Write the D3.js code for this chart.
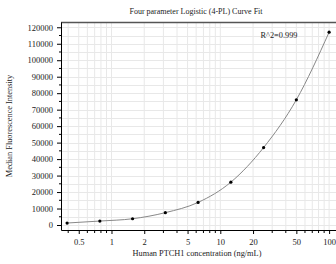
<!DOCTYPE html>
<html><head><meta charset="utf-8">
<script src="https://cdn.jsdelivr.net/npm/d3@7"></script>
<style>body{margin:0;background:#fff}svg{display:block}text{font-family:"Liberation Serif","DejaVu Serif",serif;fill:#222}</style>
</head><body><svg id="c" width="336" height="264"></svg>
<script>
const concentrations=[0.390625,0.78125,1.5625,3.125,6.25,12.5,25,50,100];
const intensities=[1200,2400,3800,7500,13700,26000,47000,76000,117000];
const xTickLabels=[0.5,1,2,5,10,20,50,100];
const yTickLabels=[0,10000,20000,30000,40000,50000,60000,70000,80000,90000,100000,110000,120000];
const title="Four parameter Logistic (4-PL) Curve Fit";
const xTitle="Human PTCH1 concentration (ng/mL)";
const yTitle="Median Fluorescence Intensity";
const r2Label="R^2=0.999";

const svg=d3.select("#c");
const L=61,T=22,R=336,B=230;
const x=d3.scaleLog().domain([0.3435,115.7]).range([L,R]);
const y=d3.scaleLinear().domain([-3030,123200]).range([B,T]);

// grid
const minorX=[];
for(const dec of [0.1,1,10]){for(let k=1;k<=9;k++){const v=dec*k;if(v>=0.35&&v<=115)minorX.push(v);}}
minorX.push(100);
const minorY=d3.range(0,123001,5000);
const g=svg.append("g");
g.selectAll("line.vx").data(minorX).enter().append("line")
 .attr("x1",d=>x(d)).attr("x2",d=>x(d)).attr("y1",T).attr("y2",B)
 .attr("stroke","#e8e8e8").attr("stroke-width",1);
g.selectAll("line.hy").data(minorY).enter().append("line")
 .attr("x1",L).attr("x2",R).attr("y1",d=>Math.round(y(d))+0.5).attr("y2",d=>Math.round(y(d))+0.5)
 .attr("stroke","#e8e8e8").attr("stroke-width",1);

// top border
svg.append("line").attr("x1",L).attr("x2",R).attr("y1",T+0.5).attr("y2",T+0.5).attr("stroke","#555").attr("stroke-width",1.5);

// axes
const xAxis=d3.axisBottom(x).tickValues(xTickLabels).tickFormat(d=>String(d)).tickSize(4).tickSizeOuter(0);
const xg=svg.append("g").attr("transform",`translate(0,${B})`).call(xAxis);
xg.selectAll("line.minor").data(minorX.filter(v=>!xTickLabels.includes(+v.toFixed(6)))).enter().append("line")
 .attr("x1",d=>x(d)).attr("x2",d=>x(d)).attr("y1",0).attr("y2",3).attr("stroke","#000");
const yAxis=d3.axisLeft(y).tickValues(yTickLabels).tickFormat(d3.format("d")).tickSize(4).tickSizeOuter(0);
const yg=svg.append("g").attr("transform",`translate(${L},0)`).call(yAxis);
yg.selectAll("line.minor").data(d3.range(5000,120000,10000)).enter().append("line")
 .attr("x1",0).attr("x2",-2).attr("y1",d=>y(d)).attr("y2",d=>y(d)).attr("stroke","#000");
[xg,yg].forEach(a=>{a.select(".domain").attr("stroke","#000");a.selectAll("text").style("font-family","Liberation Serif").style("font-size","8.5px").attr("fill","#222");});
xg.selectAll(".tick text").attr("dy","0.9em");
yg.selectAll(".tick text").attr("dx","-1px");

// curve
const pts=concentrations.map((c,i)=>[c,intensities[i]]);
svg.append("path").datum(pts)
 .attr("d",d3.line().x(d=>x(d[0])).y(d=>y(d[1])).curve(d3.curveMonotoneX))
 .attr("fill","none").attr("stroke","#888").attr("stroke-width",1);
svg.selectAll("circle.pt").data(pts).enter().append("circle")
 .attr("cx",d=>x(d[0])).attr("cy",d=>y(d[1])).attr("r",1.6).attr("fill","#000");

// texts
svg.append("text").attr("x",196).attr("y",14).attr("text-anchor","middle").style("font-size","8px").text(title);
svg.append("text").attr("x",197).attr("y",256).attr("text-anchor","middle").style("font-size","8.3px").text(xTitle);
svg.append("text").attr("transform","translate(12,126) rotate(-90)").attr("text-anchor","middle").style("font-size","8.3px").text(yTitle);
svg.append("text").attr("x",279).attr("y",38).attr("text-anchor","middle").style("font-size","8.3px").text(r2Label);
</script></body></html>
